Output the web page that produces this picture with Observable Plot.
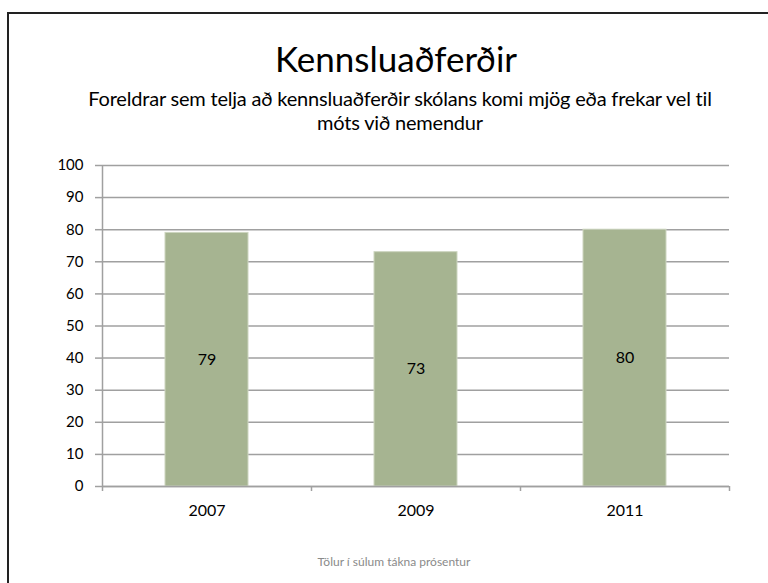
<!DOCTYPE html>
<html>
<head>
<meta charset="utf-8">
<script src="https://cdn.jsdelivr.net/npm/d3@7"></script>
<script src="https://cdn.jsdelivr.net/npm/@observablehq/plot@0.6"></script>
<style>
  html, body { margin: 0; padding: 0; background: #fff; }
  #wrap { position: relative; width: 768px; height: 583px; overflow: hidden; font-family: Lato, "Open Sans", sans-serif; }
  #frame { position: absolute; left: 7px; top: 12px; width: 800px; height: 700px; border: 2px solid #222; box-sizing: border-box; }
  #title { position: absolute; left: 0; width: 792px; top: 36px; text-align: center; font-size: 35px; color: #000; line-height: 44px; }
  #subtitle { position: absolute; left: 0; width: 800px; top: 86px; text-align: center; font-size: 20px; line-height: 24px; color: #000; letter-spacing: -0.2px; }
  #chart { position: absolute; left: 0; top: 150px; }
  #caption { position: absolute; left: 0; width: 788px; top: 554px; text-align: center; font-size: 12px; color: #8a8a8a; }
</style>
</head>
<body>
<div id="wrap">
  <div id="frame"></div>
  <div id="title">Kennsluaðferðir</div>
  <div id="subtitle">Foreldrar sem telja að kennsluaðferðir skólans komi mjög eða frekar vel til<br>móts við nemendur</div>
  <div id="chart"></div>
  <div id="caption">Tölur í súlum tákna prósentur</div>
</div>
<script>
const years = ["2007", "2009", "2011"];
const values = [79, 73, 80];
const yTicks = [0, 10, 20, 30, 40, 50, 60, 70, 80, 90, 100];

const data = years.map((y, i) => ({year: y, i, value: values[i]}));
const gray = "#a0a0a0";

const chart = Plot.plot({
  width: 768,
  height: 380,
  marginTop: 15,
  marginBottom: 44,
  marginLeft: 102,
  marginRight: 39,
  style: {fontFamily: "Lato, 'Open Sans', sans-serif", fontSize: "16px", color: "#000", background: "transparent"},
  x: {type: "linear", domain: [0, years.length]},
  y: {domain: [0, 100]},
  marks: [
    Plot.gridY(yTicks, {stroke: gray, strokeOpacity: 1, strokeWidth: 1.5}),
    Plot.axisY(yTicks, {tickSize: 7, tickPadding: 12, stroke: gray, strokeWidth: 1.5, fontSize: 15, label: null, tickFormat: d => String(d)}),
    Plot.rectY(data, {x1: d => d.i, x2: d => d.i + 1, y: "value", fill: "#a6b491", stroke: "#cdd6c0", strokeWidth: 1, insetLeft: 63, insetRight: 63}),
    Plot.ruleY([0], {stroke: gray, strokeWidth: 1.5}),
    Plot.ruleX([0], {y1: 0, y2: 100, stroke: gray, strokeWidth: 1.5}),
    Plot.axisX(d3.range(0, years.length + 1), {tickSize: 5, stroke: gray, strokeWidth: 1.5, tickFormat: () => "", label: null}),
    Plot.axisX(years.map((y, i) => i + 0.5), {tickSize: 0, tickPadding: 18, tickFormat: d => years[Math.floor(d)], fontSize: 16, label: null}),
    Plot.text(data, {x: d => d.i + 0.5, y: d => d.value / 2, text: d => String(d.value), fontSize: 16, fill: "#000"})
  ]
});
document.getElementById("chart").appendChild(chart);
</script>
</body>
</html>
